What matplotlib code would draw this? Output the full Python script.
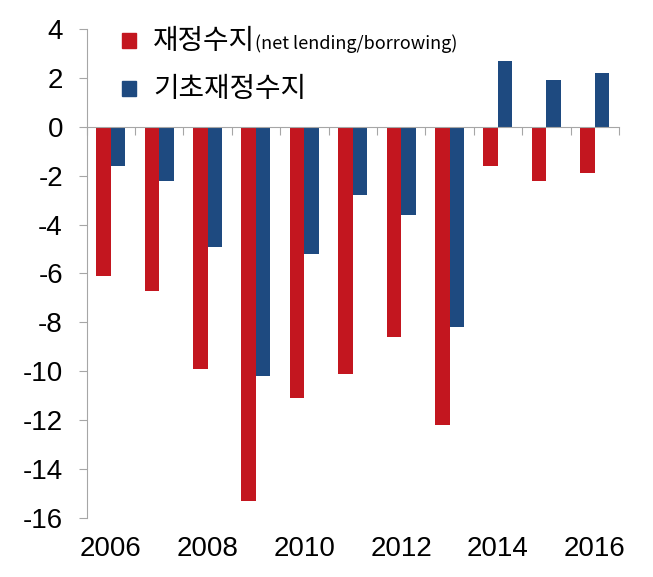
import matplotlib
matplotlib.use("Agg")
import matplotlib.pyplot as plt
from matplotlib.patches import Rectangle
import numpy as np

plt.rcParams["axes.unicode_minus"] = False

years = [2006, 2007, 2008, 2009, 2010, 2011, 2012, 2013, 2014, 2015, 2016]
fiscal_balance = [-6.1, -6.7, -9.9, -15.3, -11.1, -10.1, -8.6, -12.2, -1.6, -2.2, -1.9]
primary_balance = [-1.6, -2.2, -4.9, -10.2, -5.2, -2.8, -3.6, -8.2, 2.7, 1.9, 2.2]
year_labels = ["2006", "2008", "2010", "2012", "2014", "2016"]

red = "#C3161F"
blue = "#1E4A80"
grey = "#A6A6A6"

fig = plt.figure(figsize=(6.53, 5.77), dpi=100)
ax = fig.add_axes([0.1325, 0.1023, 0.8154, 0.8474])

x = np.arange(len(years))
w = 0.3
ax.bar(x - w / 2, fiscal_balance, w, color=red)
ax.bar(x + w / 2, primary_balance, w, color=blue)

ax.set_xlim(-0.5, len(years) - 0.5)
ax.set_ylim(-16, 4)
ax.set_yticks(range(-16, 5, 2))

for s in ["top", "right"]:
    ax.spines[s].set_visible(False)
ax.spines["bottom"].set_position(("data", 0))
ax.spines["left"].set_color(grey)
ax.spines["bottom"].set_color(grey)

ax.set_xticks(np.arange(-0.5, len(years), 1.0))
ax.set_xticklabels([])
ax.tick_params(axis="x", direction="out", length=6, color=grey)
ax.tick_params(axis="y", direction="out", length=6, color=grey, pad=11,
               labelsize=20)
for lb in ax.get_yticklabels():
    lb.set_family("Liberation Sans")

for i, yr in enumerate(years):
    if str(yr) in year_labels:
        ax.text(i, -0.064, str(yr), transform=ax.get_xaxis_transform(),
                ha="center", va="center", fontsize=20, family="Liberation Sans")

# legend drawn by hand
H = 577.0
W = 653.0
fig.patches.append(Rectangle((122 / W, 1 - 48 / H), 14 / W, 15 / H,
                             transform=fig.transFigure, color=red))
fig.patches.append(Rectangle((122 / W, 1 - 96 / H), 14 / W, 15 / H,
                             transform=fig.transFigure, color=blue))
t1 = fig.text(153 / W, 1 - 41 / H, "재정수지", fontsize=20,
              family="Noto Sans CJK KR", va="center")
fig.text(153 / W, 1 - 89 / H, "기초재정수지", fontsize=20,
         family="Noto Sans CJK KR", va="center")

fig.canvas.draw()
bb = t1.get_window_extent()
fig.text(bb.x1 / W, 1 - 44 / H, "(net lending/borrowing)", fontsize=13,
         family="Noto Sans CJK KR", va="center")

fig.savefig("out.png", dpi=100)
